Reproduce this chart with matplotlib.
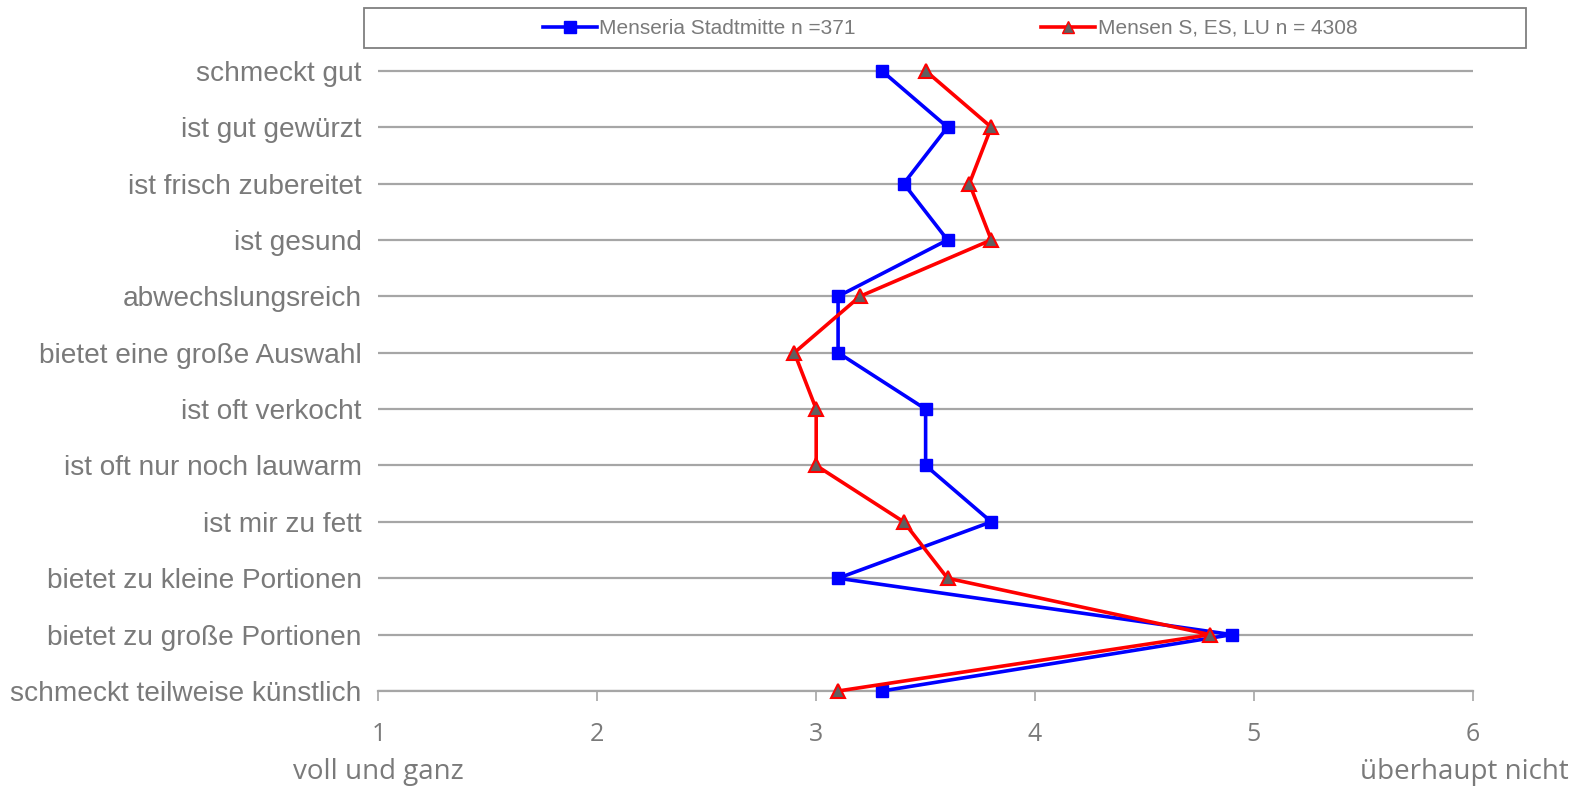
import matplotlib
matplotlib.use("Agg")
import matplotlib.pyplot as plt
from matplotlib.patches import Rectangle
from matplotlib.lines import Line2D

categories = [
    "schmeckt gut",
    "ist gut gewürzt",
    "ist frisch zubereitet",
    "ist gesund",
    "abwechslungsreich",
    "bietet eine große Auswahl",
    "ist oft verkocht",
    "ist oft nur noch lauwarm",
    "ist mir zu fett",
    "bietet zu kleine Portionen",
    "bietet zu große Portionen",
    "schmeckt teilweise künstlich",
]
menseria = [3.3, 3.6, 3.4, 3.6, 3.1, 3.1, 3.5, 3.5, 3.8, 3.1, 4.9, 3.3]
mensen = [3.5, 3.8, 3.7, 3.8, 3.2, 2.9, 3.0, 3.0, 3.4, 3.6, 4.8, 3.1]
series_labels = ["Menseria Stadtmitte n =371", "Mensen S, ES, LU n = 4308"]
x_ticks = [1, 2, 3, 4, 5, 6]
scale_low = "voll und ganz"
scale_high = "überhaupt nicht"

TEXT = "#7a7a7a"
GRID = "#a6a6a6"
plt.rcParams["font.family"] = ["Liberation Sans", "DejaVu Sans"]

fig = plt.figure(figsize=(15.87, 7.89), dpi=100)
ax = fig.add_axes([0.2385, 0.1242, 0.6895, 0.8218])

n = len(categories)
ypos = list(range(n, 0, -1))

ax.plot(menseria, ypos, color="#0000ff", lw=2.6, marker="s", ms=8.5,
        mfc="#0000ff", mec="#0000ff", zorder=3, clip_on=False)
ax.plot(mensen, ypos, color="#ff0000", lw=2.6, marker="^", ms=10,
        mfc="#606060", mec="#ff0000", mew=1.5, zorder=4, clip_on=False)

ax.set_xlim(1, 6)
ax.set_ylim(1, n + 0.5)
ax.set_yticks(ypos)
ax.set_yticklabels(categories, fontsize=20.2, color=TEXT)
ax.set_xticks(x_ticks)
ax.set_xticklabels([str(t) for t in x_ticks], fontsize=18, color=TEXT,
                   family=["Open Sans", "DejaVu Sans"])
ax.tick_params(axis="y", length=0, pad=12)
ax.tick_params(axis="x", direction="out", length=7, width=1.2, color=GRID, pad=15.5)
ax.grid(axis="y", color=GRID, lw=1.6, zorder=0)
for side in ("top", "left", "right"):
    ax.spines[side].set_visible(False)
ax.spines["bottom"].set_color(GRID)
ax.spines["bottom"].set_linewidth(1.6)
ax.set_axisbelow(True)

x1_fig = ax.transData.transform((1, 0))[0] / fig.bbox.width
fig.text(x1_fig, 0.0215, scale_low, ha="center", va="center", fontsize=20,
         color=TEXT, family=["Open Sans", "DejaVu Sans"])
fig.text(0.9886, 0.0215, scale_high, ha="right", va="center", fontsize=20,
         color=TEXT, family=["Open Sans", "DejaVu Sans"])

# legend frame across the top
fig.patches.append(Rectangle((364 / 1587, 1 - 47.6 / 789), (1526 - 364) / 1587,
                             (47.6 - 8) / 789, transform=fig.transFigure,
                             fill=False, edgecolor="#7f7f7f", lw=1.3))
handles = [
    Line2D([], [], color="#0000ff", lw=2.6, marker="s", ms=8.5, mfc="#0000ff", mec="#0000ff"),
    Line2D([], [], color="#ff0000", lw=2.6, marker="^", ms=8, mfc="#606060", mec="#ff0000"),
]
fig.legend(handles, series_labels, loc="center", bbox_to_anchor=(950 / 1587, 1 - 28.5 / 789),
           ncol=2, frameon=False, fontsize=15, labelcolor=TEXT, handlelength=2.6,
           handletextpad=0.12, columnspacing=8.9, borderpad=0)

fig.savefig("out.png", dpi=100)
